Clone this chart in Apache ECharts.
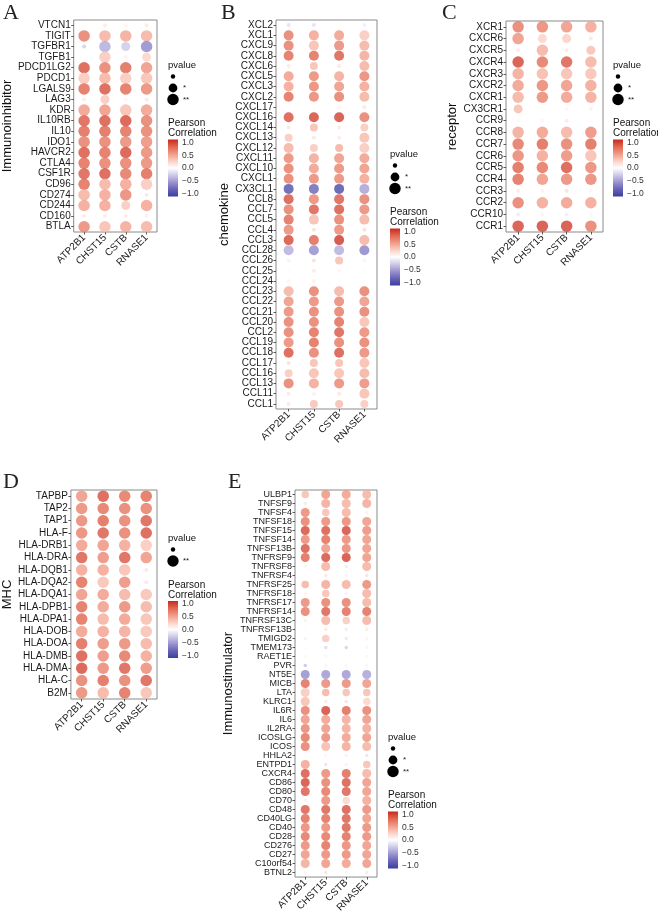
<!DOCTYPE html>
<html>
<head>
<meta charset="utf-8">
<script src="https://cdn.jsdelivr.net/npm/echarts@6/dist/echarts.min.js"></script>
<style>
html, body { margin: 0; padding: 0; background: #fff; }
#chart-container { width: 658px; height: 915px; }
</style>
</head>
<body>
<div id="chart-container"></div>
<script>
// genes on the x axis (same for every panel)
var targetGenes = ['ATP2B1', 'CHST15', 'CSTB', 'RNASE1'];

// sig: 0 = not significant, 1 = *, 2 = **
var inhibGenes = ['VTCN1','TIGIT','TGFBR1','TGFB1','PDCD1LG2','PDCD1','LGALS9','LAG3','KDR','IL10RB','IL10','IDO1','HAVCR2','CTLA4','CSF1R','CD96','CD274','CD244','CD160','BTLA'];
var inhibCorr = [
  [0.02,0.12,0.07,0.14],[0.68,0.42,0.46,0.42],[-0.24,-0.4,-0.26,-0.58],[0,0.3,0.09,0.24],
  [0.85,0.68,0.78,0.55],[0.3,0.42,0.3,0.36],[0.76,0.85,0.76,0.62],[0.12,0.3,0.06,0.14],
  [0.52,0.55,0.36,0.52],[0.82,0.85,0.88,0.68],[0.78,0.78,0.76,0.68],[0.68,0.68,0.62,0.6],
  [0.85,0.76,0.88,0.62],[0.76,0.68,0.68,0.62],[0.82,0.85,0.72,0.78],[0.76,0.42,0.48,0.3],
  [0.42,0.48,0.64,0.14],[0.48,0.48,0.3,0.48],[0.14,0.12,0.12,0.1],[0.62,0.36,0.46,0.42]
];
var inhibSig = [
  [0,0,0,0],[2,2,2,2],[0,2,1,2],[0,2,0,1],[2,2,2,2],[2,2,2,2],[2,2,2,2],[0,1,0,0],
  [2,2,2,2],[2,2,2,2],[2,2,2,2],[2,2,2,2],[2,2,2,2],[2,2,2,2],[2,2,2,2],[2,2,2,2],
  [2,2,2,0],[2,2,1,2],[0,0,0,0],[2,2,2,2]
];

var chemoGenes = ['XCL2','XCL1','CXCL9','CXCL8','CXCL6','CXCL5','CXCL3','CXCL2','CXCL17','CXCL16','CXCL14','CXCL13','CXCL12','CXCL11','CXCL10','CXCL1','CX3CL1','CCL8','CCL7','CCL5','CCL4','CCL3','CCL28','CCL26','CCL25','CCL24','CCL23','CCL22','CCL21','CCL20','CCL2','CCL19','CCL18','CCL17','CCL16','CCL13','CCL11','CCL1'];
var chemoCorr = [
  [-0.15,-0.15,0,-0.08],[0.68,0.48,0.52,0.3],[0.68,0.36,0.62,0.42],[0.76,0.76,0.82,0.46],
  [0.12,0.36,0.14,0.42],[0.52,0.62,0.46,0.64],[0.48,0.64,0.55,0.48],[0.76,0.64,0.68,0.42],
  [0.02,0.02,0.06,0.14],[0.85,0.9,0.92,0.68],[0.14,0.36,0.12,0.3],[0.3,0.14,0.12,0.36],
  [0.42,0.3,0.42,0.3],[0.62,0.46,0.55,0.52],[0.68,0.52,0.62,0.55],[0.68,0.62,0.62,0.48],
  [-0.88,-0.75,-0.92,-0.45],[0.85,0.62,0.82,0.68],[0.68,0.82,0.85,0.62],[0.76,0.36,0.68,0.42],
  [0.62,0.18,0.62,0.18],[0.88,0.78,0.95,0.42],[-0.38,-0.55,-0.38,-0.6],[0.09,0.18,0.36,0.06],
  [0.02,0.12,0.06,0.02],[0.06,0.09,0.02,0.02],[0.42,0.68,0.42,0.68],[0.55,0.62,0.62,0.55],
  [0.62,0.68,0.68,0.68],[0.68,0.68,0.76,0.36],[0.68,0.76,0.82,0.62],[0.62,0.76,0.68,0.68],
  [0.85,0.68,0.85,0.62],[0.18,0.36,0.36,0.36],[0.3,0.36,0.36,0.42],[0.68,0.48,0.62,0.6],
  [0.14,0.09,0.14,0.36],[0.14,0.34,0.36,0.3]
];
var chemoSig = [
  [0,0,0,0],[2,2,2,2],[2,2,2,2],[2,2,2,2],[0,1,0,2],[2,2,2,2],[2,2,2,2],[2,2,2,2],
  [0,0,0,0],[2,2,2,2],[0,1,0,1],[1,0,0,2],[2,1,1,2],[2,2,2,2],[2,2,2,2],[2,2,2,2],
  [2,2,2,2],[2,2,2,2],[2,2,2,2],[2,2,2,2],[2,0,2,0],[2,2,2,2],[2,2,2,2],[0,0,1,0],
  [0,0,0,0],[0,0,0,0],[2,2,2,2],[2,2,2,2],[2,2,2,2],[2,2,2,2],[2,2,2,2],[2,2,2,2],
  [2,2,2,2],[0,1,1,2],[1,2,2,2],[2,2,2,2],[0,0,0,2],[0,1,1,1]
];

var receptorGenes = ['XCR1','CXCR6','CXCR5','CXCR4','CXCR3','CXCR2','CXCR1','CX3CR1','CCR9','CCR8','CCR7','CCR6','CCR5','CCR4','CCR3','CCR2','CCR10','CCR1'];
var receptorCorr = [
  [0.68,0.64,0.55,0.48],[0.55,0.24,0.26,0.14],[0.12,0.42,0.12,0.34],[0.9,0.72,0.82,0.42],
  [0.46,0.38,0.36,0.34],[0.52,0.64,0.55,0.48],[0.42,0.62,0.52,0.46],[0.36,0.02,0.06,0.09],
  [0.03,0.06,0.12,0.03],[0.46,0.52,0.42,0.6],[0.72,0.78,0.68,0.78],[0.64,0.48,0.6,0.36],
  [0.78,0.72,0.85,0.64],[0.76,0.55,0.62,0.64],[0.12,0.09,0.18,0.06],[0.68,0.48,0.52,0.48],
  [-0.1,0.08,-0.08,0.05],[0.9,0.92,0.92,0.68]
];
var receptorSig = [
  [2,2,2,2],[2,1,1,0],[0,2,0,1],[2,2,2,2],[2,2,2,2],[2,2,2,2],[2,2,2,2],[1,0,0,0],
  [0,0,0,0],[2,2,2,2],[2,2,2,2],[2,2,2,2],[2,2,2,2],[2,2,2,2],[0,0,0,0],[2,2,2,2],
  [0,0,0,0],[2,2,2,2]
];

var mhcGenes = ['TAPBP','TAP2','TAP1','HLA-F','HLA-DRB1','HLA-DRA','HLA-DQB1','HLA-DQA2','HLA-DQA1','HLA-DPB1','HLA-DPA1','HLA-DOB','HLA-DOA','HLA-DMB','HLA-DMA','HLA-C','B2M'];
var mhcCorr = [
  [0.55,0.85,0.72,0.76],[0.62,0.72,0.68,0.68],[0.64,0.78,0.68,0.82],[0.64,0.82,0.68,0.85],
  [0.52,0.55,0.48,0.3],[0.82,0.6,0.82,0.55],[0.48,0.48,0.36,0.14],[0.76,0.34,0.6,0.14],
  [0.55,0.52,0.42,0.34],[0.76,0.52,0.62,0.42],[0.76,0.42,0.52,0.36],[0.52,0.48,0.46,0.34],
  [0.78,0.6,0.62,0.42],[0.85,0.6,0.72,0.48],[0.88,0.62,0.82,0.6],[0.68,0.78,0.68,0.82],
  [0.62,0.42,0.76,0.36]
];
var mhcSig = [
  [2,2,2,2],[2,2,2,2],[2,2,2,2],[2,2,2,2],[2,2,2,2],[2,2,2,2],[2,2,2,0],[2,2,2,0],
  [2,2,2,2],[2,2,2,2],[2,2,2,2],[2,2,2,2],[2,2,2,2],[2,2,2,2],[2,2,2,2],[2,2,2,2],
  [2,2,2,2]
];

var stimGenes = ['ULBP1','TNFSF9','TNFSF4','TNFSF18','TNFSF15','TNFSF14','TNFSF13B','TNFRSF9','TNFRSF8','TNFRSF4','TNFRSF25','TNFRSF18','TNFRSF17','TNFRSF14','TNFRSF13C','TNFRSF13B','TMIGD2','TMEM173','RAET1E','PVR','NT5E','MICB','LTA','KLRC1','IL6R','IL6','IL2RA','ICOSLG','ICOS','HHLA2','ENTPD1','CXCR4','CD86','CD80','CD70','CD48','CD40LG','CD40','CD28','CD276','CD27','C10orf54','BTNL2'];
var stimCorr = [
  [0.36,0.55,0.52,0.42],[0.14,0.46,0.42,0.46],[0.62,0.36,0.42,0.09],[0.68,0.62,0.64,0.55],
  [0.88,0.85,0.9,0.6],[0.62,0.76,0.62,0.55],[0.85,0.55,0.64,0.55],[0.78,0.88,0.92,0.55],
  [0.06,0.42,0.12,0.42],[0.02,0.14,0.06,0.18],[0.42,0.46,0.42,0.62],[0.06,0.36,0.09,0.42],
  [0.62,0.68,0.68,0.42],[0.68,0.82,0.76,0.76],[0.09,0.42,0.3,0.42],[0.02,0.14,-0.09,0.12],
  [0.09,0.3,-0.12,0.06],[0.02,-0.18,-0.24,0.06],[0.05,0.05,0.02,0.05],[-0.3,0.06,0.06,0.06],
  [-0.55,-0.5,-0.5,-0.45],[0.76,0.62,0.62,0.55],[0.3,0.42,0.36,0.36],[0.36,0.12,0.18,0.24],
  [0.68,0.92,0.78,0.68],[0.55,0.52,0.46,0.55],[0.64,0.55,0.46,0.48],[0.72,0.62,0.52,0.55],
  [0.68,0.38,0.46,0.42],[0.02,0.06,0.09,0.18],[0.48,0.18,0.09,0.36],[0.85,0.62,0.78,0.42],
  [0.9,0.68,0.85,0.55],[0.82,0.72,0.82,0.55],[0.09,0.62,0.24,0.48],[0.82,0.82,0.85,0.62],
  [0.76,0.76,0.82,0.55],[0.64,0.62,0.82,0.62],[0.72,0.72,0.76,0.62],[0.62,0.76,0.64,0.55],
  [0.55,0.62,0.62,0.55],[0.46,0.55,0.52,0.55],[0.06,0.18,0.06,0.14]
];
var stimSig = [
  [1,2,2,2],[0,2,2,2],[2,1,2,0],[2,2,2,2],[2,2,2,2],[2,2,2,2],[2,2,2,2],[2,2,2,2],
  [0,2,0,2],[0,0,0,0],[1,2,2,2],[0,1,0,2],[2,2,2,2],[2,2,2,2],[0,2,1,2],[0,0,0,0],
  [0,1,0,0],[0,0,0,0],[0,0,0,0],[0,0,0,0],[2,2,2,2],[2,2,2,2],[2,1,1,1],[2,0,0,1],
  [2,2,2,2],[2,2,2,2],[2,2,2,2],[2,2,2,2],[2,2,2,2],[0,0,0,0],[2,0,0,1],[2,2,2,2],
  [2,2,2,2],[2,2,2,2],[0,2,1,2],[2,2,2,2],[2,2,2,2],[2,2,2,2],[2,2,2,2],[2,2,2,2],
  [2,2,2,2],[2,2,2,2],[0,0,0,0]
];

var colorbarTicks = ['1.0', '0.5', '0.0', '\u22120.5', '\u22121.0'];
var sigLabels = ['', '*', '**'];

var FONT = '"Liberation Sans", Arial, Helvetica, sans-serif';
// blue - white - red, stepped like a Lab interpolation (-1 .. 1 in 0.25 steps)
var SCALE = ['#3a3fa0', '#6762b6', '#9a93cf', '#cdcae7', '#ffffff', '#fbcfc4', '#f19a86', '#e16650', '#c8291d'];

var panels = [
  { letter: 'A', title: 'Immunoinhibitor', genes: inhibGenes, corr: inhibCorr, sig: inhibSig,
    grid: { left: 67, top: 20, width: 90, height: 212 }, nameGap: 57, fs: 10, sizes: [4, 9, 11.5],
    letterPos: [3, 2], legend: { x: 168, y: 65, levels: [0, 1, 2] } },
  { letter: 'B', title: 'chemokine', genes: chemoGenes, corr: chemoCorr, sig: chemoSig,
    grid: { left: 276, top: 20, width: 101, height: 389 }, nameGap: 43, fs: 10, sizes: [4, 8, 10],
    letterPos: [221, 2], legend: { x: 390, y: 154, levels: [0, 1, 2] } },
  { letter: 'C', title: 'receptor', genes: receptorGenes, corr: receptorCorr, sig: receptorSig,
    grid: { left: 506, top: 21, width: 97, height: 211 }, nameGap: 47, fs: 10, sizes: [4, 9, 11.5],
    letterPos: [442, 2], legend: { x: 613, y: 65, levels: [0, 1, 2] } },
  { letter: 'D', title: 'MHC', genes: mhcGenes, corr: mhcCorr, sig: mhcSig,
    grid: { left: 67, top: 490, width: 90, height: 209 }, nameGap: 53, fs: 10, sizes: [4, 9, 11.5],
    letterPos: [3, 471], legend: { x: 168, y: 538, levels: [0, 2] } },
  { letter: 'E', title: 'Immunostimulator', genes: stimGenes, corr: stimCorr, sig: stimSig,
    grid: { left: 295, top: 490, width: 82, height: 388 }, nameGap: 60, fs: 9, sizes: [3.5, 7.5, 9],
    letterPos: [228, 471], legend: { x: 388, y: 737, levels: [0, 1, 2] } }
];

var dom = document.getElementById('chart-container');
var myChart = echarts.init(dom, null, { renderer: 'canvas' });

var grids = [], xAxes = [], yAxes = [], series = [], graphics = [];
var barStops = SCALE.slice().reverse().map(function (c, k) {
  return { offset: k / (SCALE.length - 1), color: c };
});

panels.forEach(function (p, i) {
  grids.push({
    left: p.grid.left, top: p.grid.top, width: p.grid.width, height: p.grid.height,
    show: true, borderColor: '#8a8a8a', borderWidth: 1, backgroundColor: 'transparent'
  });
  xAxes.push({
    type: 'category', gridIndex: i, data: targetGenes,
    axisLine: { show: false },
    axisTick: { show: true, alignWithLabel: true, length: 2.5, interval: 0, lineStyle: { color: '#333', width: 0.8 } },
    axisLabel: { rotate: 45, interval: 0, fontSize: 10, color: '#1a1a1a', margin: 4, fontFamily: FONT },
    splitLine: { show: false }
  });
  yAxes.push({
    type: 'category', gridIndex: i, data: p.genes, inverse: true,
    name: p.title, nameLocation: 'middle', nameRotate: 90, nameGap: p.nameGap,
    nameTextStyle: { fontSize: 13, color: '#111', fontFamily: FONT },
    axisLine: { show: false },
    axisTick: { show: true, alignWithLabel: true, length: 2.5, interval: 0, lineStyle: { color: '#333', width: 0.8 } },
    axisLabel: { interval: 0, fontSize: p.fs, color: '#1a1a1a', margin: 3, fontFamily: FONT },
    splitLine: { show: false }
  });

  var data = [];
  p.genes.forEach(function (g, r) {
    targetGenes.forEach(function (t, c) {
      data.push([t, g, p.corr[r][c], p.sig[r][c]]);
    });
  });
  var sizes = p.sizes;
  series.push({
    type: 'scatter', xAxisIndex: i, yAxisIndex: i, data: data,
    symbolSize: function (v) { return sizes[v[3]]; },
    silent: true
  });

  graphics.push({
    type: 'text', x: p.letterPos[0], y: p.letterPos[1],
    style: { text: p.letter, font: '22px "Liberation Serif", "Times New Roman", serif', fill: '#222' }
  });

  // legend: pvalue sizes + colour bar
  var lx = p.legend.x, ly = p.legend.y;
  graphics.push({ type: 'text', x: lx, y: ly,
    style: { text: 'pvalue', fontSize: 9.5, fontFamily: FONT, fill: '#111', verticalAlign: 'middle' } });
  var yy = ly;
  p.legend.levels.forEach(function (lv) {
    yy += 11.5;
    graphics.push({ type: 'circle', shape: { cx: lx + 5, cy: yy, r: [2.2, 4.4, 5.7][lv] }, style: { fill: '#000' } });
    if (sigLabels[lv]) {
      graphics.push({ type: 'text', x: lx + 15, y: yy,
        style: { text: sigLabels[lv], fontSize: 8, fontFamily: FONT, fill: '#222', verticalAlign: 'middle' } });
    }
  });
  var py = yy + 24;
  graphics.push({ type: 'text', x: lx, y: py,
    style: { text: 'Pearson', fontSize: 10, fontFamily: FONT, fill: '#111', verticalAlign: 'middle' } });
  graphics.push({ type: 'text', x: lx, y: py + 10,
    style: { text: 'Correlation', fontSize: 10, fontFamily: FONT, fill: '#111', verticalAlign: 'middle' } });
  graphics.push({ type: 'rect', shape: { x: lx, y: py + 16, width: 10, height: 57 },
    style: { fill: { type: 'linear', x: 0, y: 0, x2: 0, y2: 1, colorStops: barStops } } });
  colorbarTicks.forEach(function (t, k) {
    graphics.push({ type: 'text', x: lx + 14, y: py + 19 + k * 12.8,
      style: { text: t, fontSize: 8.5, fontFamily: FONT, fill: '#333', verticalAlign: 'middle' } });
  });
});

var option = {
  backgroundColor: '#ffffff',
  animation: false,
  grid: grids,
  xAxis: xAxes,
  yAxis: yAxes,
  visualMap: {
    show: false, type: 'continuous', min: -1, max: 1, dimension: 2,
    seriesIndex: [0, 1, 2, 3, 4],
    inRange: { color: SCALE }
  },
  series: series,
  graphic: graphics
};

myChart.setOption(option);
window.addEventListener('resize', myChart.resize);
</script>
</body>
</html>
